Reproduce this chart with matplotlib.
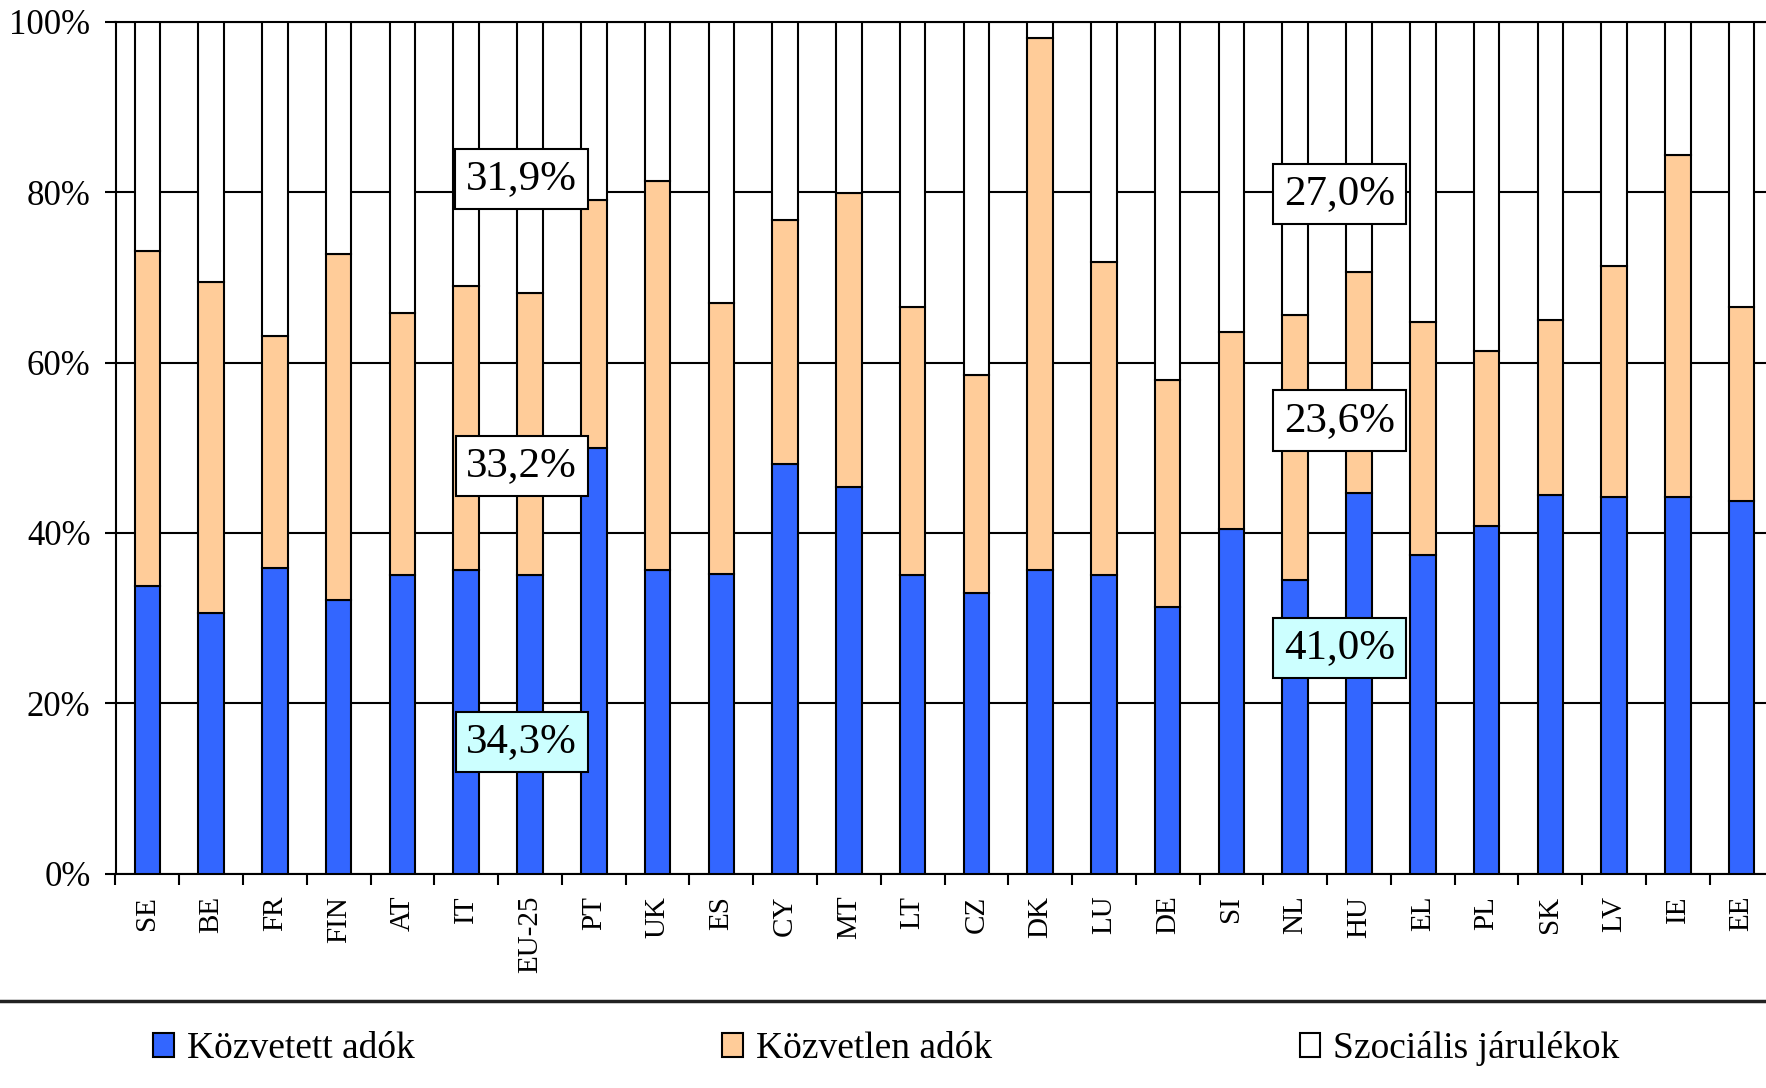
import numpy as np
import matplotlib
matplotlib.use("Agg")
import matplotlib.pyplot as plt
from matplotlib.patches import Patch
from matplotlib.lines import Line2D

plt.rcParams['font.family'] = ['Liberation Serif', 'DejaVu Serif']

countries = ["SE", "BE", "FR", "FIN", "AT", "IT", "EU-25", "PT", "UK", "ES", "CY", "MT", "LT",
             "CZ", "DK", "LU", "DE", "SI", "NL", "HU", "EL", "PL", "SK", "LV", "IE", "EE"]

# shares in percent
kozvetett = [33.8, 30.6, 35.9, 32.1, 35.0, 35.7, 35.0, 50.0, 35.7, 35.2, 48.1, 45.4, 35.0,
             33.0, 35.7, 35.0, 31.3, 40.5, 34.5, 44.7, 37.4, 40.8, 44.4, 44.2, 44.2, 43.8]
kozvetlen = [39.3, 38.9, 27.2, 40.7, 30.8, 33.3, 33.2, 29.1, 45.6, 31.8, 28.6, 34.5, 31.5,
             25.5, 62.4, 36.8, 26.7, 23.1, 31.1, 25.9, 27.4, 20.6, 20.6, 27.2, 40.2, 22.7]
szocialis = [26.9, 30.5, 36.9, 27.2, 34.2, 31.0, 31.8, 20.9, 18.7, 33.0, 23.3, 20.1, 33.5,
             41.5, 1.9, 28.2, 42.0, 36.4, 34.4, 29.4, 35.2, 38.6, 35.0, 28.6, 15.6, 33.5]

series_names = ["Közvetett adók", "Közvetlen adók", "Szociális járulékok"]
colors = ["#3366FF", "#FFCC99", "#FFFFFF"]

# boxed labels: text, x position (category units), y position (%), fill
box_texts = ["31,9%", "33,2%", "34,3%", "27,0%", "23,6%", "41,0%"]
box_x = [5.87, 5.87, 5.87, 18.69, 18.69, 18.69]
box_y = [81.6, 47.9, 15.5, 79.8, 53.2, 26.5]
box_fill = ["white", "white", "#CCFFFF", "white", "white", "#CCFFFF"]

fig = plt.figure(figsize=(17.66, 10.88), dpi=100)
ax = fig.add_axes([115.5 / 1766, 214.5 / 1088, 26 * 63.77 / 1766, 851.5 / 1088])

x = np.arange(len(countries))
bottom = np.zeros(len(countries))
for vals, c in zip([kozvetett, kozvetlen, szocialis], colors):
    ax.bar(x, vals, width=0.40, bottom=bottom, color=c, edgecolor="black",
           linewidth=1.5, zorder=3)
    bottom += np.array(vals)

ax.set_xlim(-0.5, len(countries) - 0.5)
ax.set_ylim(0, 100)
ax.set_yticks(np.arange(0, 101, 20))
ax.set_yticklabels([f"{v}%" for v in range(0, 101, 20)], fontsize=25)
ax.yaxis.grid(True, color="black", linewidth=1.5, zorder=0)
ax.set_axisbelow(True)

ax.set_xticks(x)
ax.set_xticklabels(countries, rotation=90, fontsize=21, va="top")
ax.set_xticks(np.arange(-0.5, len(countries), 1), minor=True)
ax.tick_params(axis="x", which="major", length=0, pad=16)
ax.tick_params(axis="x", which="minor", length=8, width=1.5, direction="out")
ax.tick_params(axis="y", length=8, width=1.5, pad=10)

for s in ["left", "bottom", "top"]:
    ax.spines[s].set_linewidth(1.5)
ax.spines["right"].set_visible(False)

for t, bx, by, fc in zip(box_texts, box_x, box_y, box_fill):
    ax.text(bx, by, t, ha="center", va="center", fontsize=31, zorder=5,
            bbox=dict(boxstyle="square,pad=0.25", facecolor=fc, edgecolor="black", linewidth=1.5))

# separator line above the legend
fig.add_artist(Line2D([0, 1], [1 - 1001 / 1088, 1 - 1001 / 1088], color="#222222", linewidth=2.5))

handles = [Patch(facecolor=c, edgecolor="black", linewidth=1.5) for c in colors]
fig.legend(handles, series_names, loc="center", bbox_to_anchor=(0.502, 1 - 1049 / 1088),
           ncol=3, frameon=False, fontsize=27, handlelength=0.55, handleheight=0.6,
           handletextpad=0.35, columnspacing=8.2)

fig.savefig("out.png", dpi=100)
